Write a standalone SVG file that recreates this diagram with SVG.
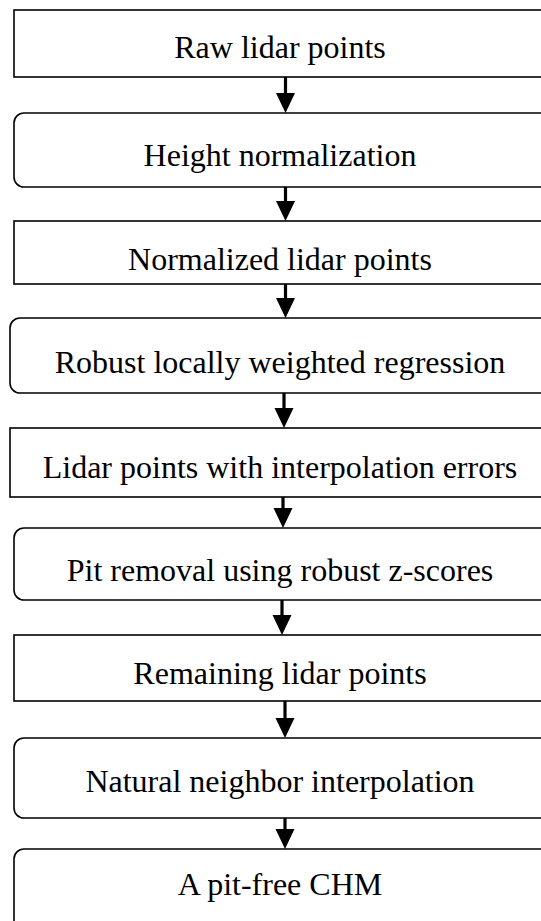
<svg xmlns="http://www.w3.org/2000/svg" width="541" height="921" viewBox="0 0 541 921">
<defs>
<style>
.box{fill:#fff;stroke:#000;stroke-width:1.6}
.lbl{font-family:"Liberation Serif","Times New Roman",serif;font-size:32px;fill:#000;text-anchor:middle}
.shaft{stroke:#000;stroke-width:3.2;fill:none}
.head{fill:#000}
</style>
</defs>
<rect width="541" height="921" fill="#fff"/>
<g id="n1"><rect class="box" x="14" y="10" width="550" height="67"/><text class="lbl" x="280" y="58">Raw lidar points</text></g>
<g id="n2"><rect class="box" x="14" y="113" width="550" height="74" rx="10"/><text class="lbl" x="280" y="166">Height normalization</text></g>
<g id="n3"><rect class="box" x="14" y="221" width="550" height="63"/><text class="lbl" x="280" y="270">Normalized lidar points</text></g>
<g id="n4"><rect class="box" x="10" y="318" width="554" height="75" rx="10"/><text class="lbl" x="280" y="373">Robust locally weighted regression</text></g>
<g id="n5"><rect class="box" x="10" y="428" width="554" height="69"/><text class="lbl" x="280" y="478">Lidar points with interpolation errors</text></g>
<g id="n6"><rect class="box" x="14" y="528" width="550" height="72" rx="10"/><text class="lbl" x="280" y="581">Pit removal using robust z-scores</text></g>
<g id="n7"><rect class="box" x="14" y="635" width="550" height="66"/><text class="lbl" x="280" y="684">Remaining lidar points</text></g>
<g id="n8"><rect class="box" x="14" y="738" width="550" height="80" rx="10"/><text class="lbl" x="280" y="792">Natural neighbor interpolation</text></g>
<g id="n9"><rect class="box" x="14" y="849" width="550" height="90" rx="10"/><text class="lbl" x="280" y="895">A pit-free CHM</text></g>
<g id="connectors">
<line class="shaft" x1="285.5" y1="77" x2="285.5" y2="94"/><polygon class="head" points="276,93 295,93 285.5,113"/>
<line class="shaft" x1="285.5" y1="187" x2="285.5" y2="202"/><polygon class="head" points="276,201 295,201 285.5,221"/>
<line class="shaft" x1="285.5" y1="284" x2="285.5" y2="299"/><polygon class="head" points="276,298 295,298 285.5,318"/>
<line class="shaft" x1="284" y1="393" x2="284" y2="409"/><polygon class="head" points="274.5,408 293.5,408 284,428"/>
<line class="shaft" x1="283" y1="497" x2="283" y2="509"/><polygon class="head" points="273.5,508 292.5,508 283,528"/>
<line class="shaft" x1="282" y1="600" x2="282" y2="616"/><polygon class="head" points="272.5,615 291.5,615 282,635"/>
<line class="shaft" x1="285" y1="701" x2="285" y2="719"/><polygon class="head" points="275.5,718 294.5,718 285,738"/>
<line class="shaft" x1="285" y1="818" x2="285" y2="830"/><polygon class="head" points="275.5,829 294.5,829 285,849"/>
</g>
</svg>
